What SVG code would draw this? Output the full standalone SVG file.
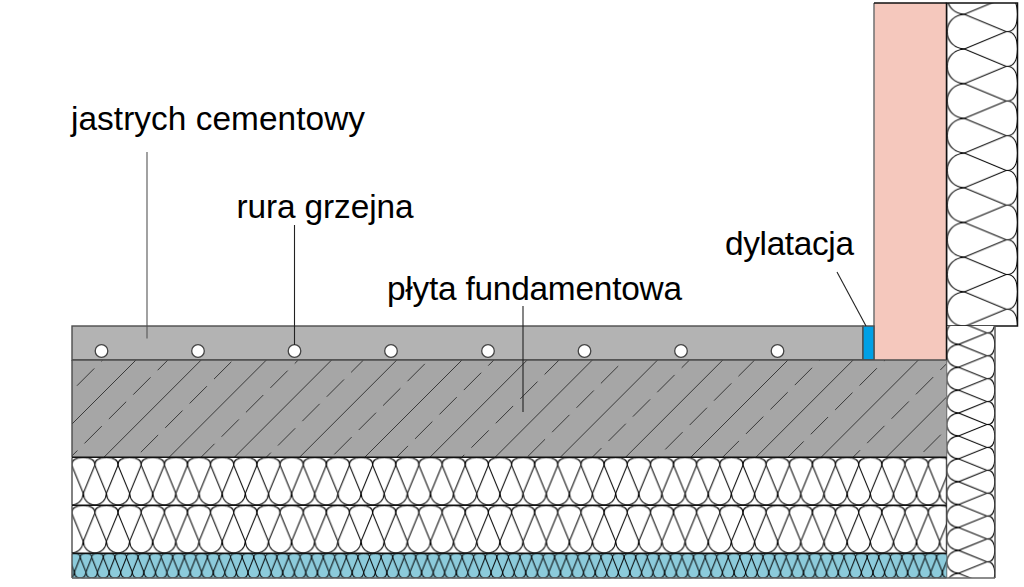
<svg xmlns="http://www.w3.org/2000/svg" xmlns:xlink="http://www.w3.org/1999/xlink" width="1024" height="587" viewBox="0 0 1024 587">
<style>
text{font-family:"Liberation Sans",Arial,sans-serif;font-size:33.4px;fill:#000}
.w{fill:none;stroke:#000}
.h{stroke:#2e2e2e;stroke-width:.9;fill:none}
.d{stroke:#2e2e2e;stroke-width:.9;fill:none;stroke-dasharray:24.5 10}
.e{stroke:#4d4d4d;stroke-width:1.4}
.k{fill:none;stroke:#111;stroke-width:1.5}
.l{stroke:#222;stroke-width:1.1;fill:none}
.p{fill:#fff;stroke:#444;stroke-width:1.3}
</style>
<defs>
<path id="wave" d="M0 .3C7.5 .3 12.2 3 11.67 8L23.33 36C23.8 43 28.5 47.7 35 47.7C41.500 47.7 46.2 43 46.67 36L58.33 8C57.8 3 62.5 .3 70 .3"/>
<g id="tile" class="w">
<use xlink:href="#wave" x="-46.667"/><use xlink:href="#wave" x="-23.333"/><use xlink:href="#wave"/><use xlink:href="#wave" x="23.333"/><use xlink:href="#wave" x="46.667"/>
</g>
<pattern id="p1" patternUnits="userSpaceOnUse" width="70" height="48" patternTransform="translate(83.3 457.3) scale(.992 1)"><use xlink:href="#tile" stroke-width="1.05"/></pattern>
<pattern id="p2" patternUnits="userSpaceOnUse" width="70" height="48" patternTransform="translate(83.3 505.3) scale(.992 1)"><use xlink:href="#tile" stroke-width="1.05"/></pattern>
<pattern id="p3" patternUnits="userSpaceOnUse" width="70" height="48" patternTransform="translate(74.4 553.3) scale(.496 .52)"><use xlink:href="#tile" stroke-width="2"/></pattern>
<pattern id="p4" patternUnits="userSpaceOnUse" width="70" height="48" patternTransform="translate(1018 49) rotate(90) scale(1.487)"><use xlink:href="#tile" stroke-width=".7"/></pattern>
<pattern id="p5" patternUnits="userSpaceOnUse" width="70" height="48" patternTransform="translate(995 344.4) rotate(90) scale(.981 1.01)"><use xlink:href="#tile" stroke-width="1.05"/></pattern>
<clipPath id="cc"><rect x="72" y="360" width="874" height="97"/></clipPath>
</defs>
<rect width="1024" height="587" fill="#fff"/>
<g id="izolacja-sciany">
<rect x="946.5" y="3" width="71" height="323" fill="#fff"/>
<rect x="946.5" y="3" width="71" height="323" fill="url(#p4)"/>
<rect x="946.5" y="3" width="71" height="323" class="k"/>
</g>
<g id="izolacja-cokolu">
<rect x="946.5" y="326" width="48.5" height="252" fill="#fff"/>
<rect x="946.5" y="326" width="48.5" height="252" fill="url(#p5)"/>
<path d="M946.5 326V578M995 326V578" fill="none" class="e"/>
</g>
<g id="sciana"><rect x="874" y="3" width="72.5" height="357" style="fill:#f5c8bd;stroke:none"/><path d="M874 3V360" stroke="#777" stroke-width="1.6" fill="none"/><path d="M946.5 3V360M874 3H946.5" class="k"/></g>
<g id="jastrych">
<rect x="72" y="326" width="791" height="34" style="fill:#b3b3b3" class="e"/>
<circle class="p" cx="101.5" cy="351" r="6.3"/><circle class="p" cx="198" cy="351" r="6.3"/><circle class="p" cx="294.5" cy="351" r="6.3"/><circle class="p" cx="391" cy="351" r="6.3"/><circle class="p" cx="488" cy="351" r="6.3"/><circle class="p" cx="584.5" cy="351" r="6.3"/><circle class="p" cx="681" cy="351" r="6.3"/><circle class="p" cx="777.5" cy="351" r="6.3"/>
</g>
<g id="dylatacja-szczelina"><rect x="863" y="326" width="11" height="34" style="fill:#00a0e6" class="e"/></g>
<g id="plyta">
<rect x="72" y="360" width="874.5" height="97" fill="#a6a6a6"/>
<g clip-path="url(#cc)">
<path class="h" d="M136 360l-97 97M201.2 360l-97 97M266.4 360l-97 97M331.6 360l-97 97M396.8 360l-97 97M462 360l-97 97M527.2 360l-97 97M592.4 360l-97 97M657.6 360l-97 97M722.8 360l-97 97M788 360l-97 97M853.2 360l-97 97M918.4 360l-97 97M983.6 360l-97 97"/>
<path class="d" stroke-dashoffset="-11.9" d="M102.7 360l-97 97"/>
<path class="d" stroke-dashoffset="-24.5" d="M167.9 360l-97 97"/>
<path class="d" stroke-dashoffset="-2.5" d="M233.1 360l-97 97"/>
<path class="d" stroke-dashoffset="-15" d="M298.3 360l-97 97"/>
<path class="d" stroke-dashoffset="-27.5" d="M363.5 360l-97 97"/>
<path class="d" stroke-dashoffset="-5.5" d="M428.7 360l-97 97"/>
<path class="d" stroke-dashoffset="-18" d="M493.9 360l-97 97"/>
<path class="d" stroke-dashoffset="-30.5" d="M559.1 360l-97 97"/>
<path class="d" stroke-dashoffset="-8.6" d="M624.3 360l-97 97"/>
<path class="d" stroke-dashoffset="-21.1" d="M689.5 360l-97 97"/>
<path class="d" stroke-dashoffset="-33" d="M754.7 360l-97 97"/>
<path class="d" stroke-dashoffset="-11" d="M819.9 360l-97 97"/>
<path class="d" stroke-dashoffset="-11.6" d="M885.1 360l-97 97"/>
<path class="d" stroke-dashoffset="-24.1" d="M950.3 360l-97 97"/>
<path class="d" stroke-dashoffset="-2.1" d="M1015.5 360l-97 97"/>
</g>
<path d="M72 360H946.5M72 360V457" fill="none" class="e"/>
</g>
<g id="izolacja-1"><rect x="72" y="457.3" width="874.5" height="48" fill="url(#p1)"/><path d="M72 457.3V505.3" fill="none" class="e"/><path d="M72 457.3H946.5" class="k"/></g>
<g id="izolacja-2"><rect x="72" y="505.3" width="874.5" height="48" fill="url(#p2)"/><path d="M72 505.3V553.3" fill="none" class="e"/><path d="M72 505.3H946.5" class="k"/></g>
<g id="izolacja-3"><rect x="72" y="553.3" width="874.5" height="25" fill="#8ccbdb"/><rect x="72" y="553.3" width="874.5" height="25" fill="url(#p3)"/><path d="M72 553.3H946.5" class="k"/><path d="M72 553.3V578" fill="none" class="e"/></g>
<path d="M72 578H995" stroke="#666" stroke-width="1.5" fill="none"/>
<g id="connectors">
<path class="l" style="stroke:#555" d="M147 152V338.5"/>
<path class="l" d="M294.5 225V345"/>
<path class="l" d="M523 306V412"/>
<path class="l" d="M837 272L866 326"/>
</g>
<g id="labels">
<text x="71" y="130" textLength="294">jastrych cementowy</text>
<text x="236.5" y="218" textLength="177">rura grzejna</text>
<text x="387" y="300" textLength="295">płyta fundamentowa</text>
<text x="725" y="255" textLength="129">dylatacja</text>
</g>
</svg>
